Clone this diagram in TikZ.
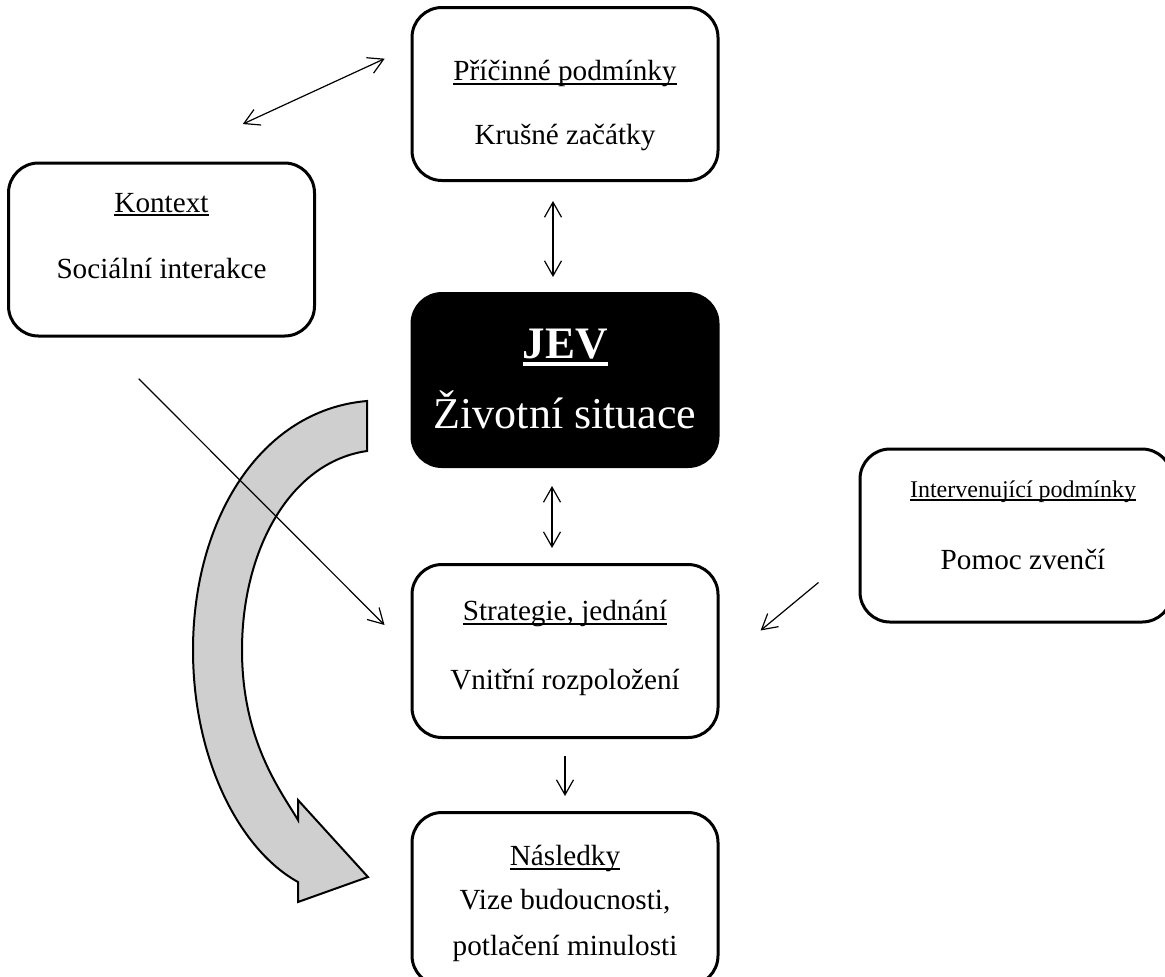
\documentclass[tikz,border=0pt]{standalone}
\usepackage{mathtools}
\usepackage{fontspec}
\setmainfont{Liberation Serif}
\usetikzlibrary{positioning,arrows.meta,calc}

\definecolor{sipka}{RGB}{208,207,208}
% podtrzeni tesne pod uctarii (jako ve Wordu)
\newcommand{\podtrh}[1]{\sbox0{#1}\rlap{\rule[-2pt]{\wd0}{0.8pt}}\usebox0}
\newcommand{\podtrhjev}[1]{\sbox0{#1}\rlap{\rule[-3.8pt]{\wd0}{1.8pt}}\usebox0}
% radky textu v ramecku, uctarie prvniho radku je uctarie uzlu
\newcommand{\obsah}[1]{\begin{tabular}[t]{@{}c@{}}#1\end{tabular}}

\tikzset{
  box/.style={draw, rounded corners=15pt, line width=1.5pt, minimum width=153pt,
    minimum height=86.5pt, text height=0pt, font=\fontsize{14.6}{17.5}\selectfont},
  jevbox/.style={box, fill=black, text=white, font=\fontsize{22}{28}\selectfont},
  spoj/.style={line width=0.6pt, >={Straight Barb[length=7.5pt,width=8.5pt]}},
  velka/.style={fill=sipka, draw=black, line width=1pt, line join=miter}
}

\begin{document}
\begin{tikzpicture}[x=0.5pt, y=-0.5pt]
  \useasboundingbox (0,0) rectangle (1165,976);

  % velka zakrivena sipka
  \filldraw[velka] (367,401) -- (367,451)
    .. controls (290,462) and (242,550) .. (242,650)
    .. controls (242,740) and (280,790) .. (298,820)
    -- (298,800) -- (368,877) -- (298,902) -- (298,882)
    .. controls (240,850) and (193,760) .. (193,650)
    .. controls (193,520) and (260,410) .. (367,401)
    -- cycle;

  \node[jevbox, text depth=22pt] (jev) at (565,380)
    {\obsah{{\fontsize{22.5}{28}\selectfont\bfseries\podtrhjev{JEV}}\\[7pt]Životní situace}};
  \node[box, text depth=13.5pt] (pricinne) [above=55pt of jev]
    {\obsah{\podtrh{Příčinné podmínky}\\[14.5pt]Krušné začátky}};
  \node[box, text depth=30.5pt] (strategie) [below=47.5pt of jev]
    {\obsah{\podtrh{Strategie, jednání}\\[17pt]Vnitřní rozpoložení}};
  \node[box, text depth=33.5pt] (nasledky) [below=36pt of strategie]
    {\obsah{\podtrh{Následky}\\[4.5pt]Vize budoucnosti,\\[5.5pt]potlačení minulosti}};
  \node[box, text depth=37.5pt] (kontext) at (161.5,249.5)
    {\obsah{\podtrh{Kontext}\\[15.5pt]Sociální interakce}};
  \node[box, minimum width=156pt, text depth=38.5pt] (interv) at (1016,535.5)
    {\hspace{7pt}\obsah{{\fontsize{12}{14}\selectfont\podtrh{Intervenující podmínky}}\\[18.5pt]Pomoc zvenčí}};

  % spojnice
  \draw[spoj, <->, shorten <=44.75pt, shorten >=14.2pt] (kontext.north) -- (pricinne.163.7);
  \draw[spoj, <->, shorten <=9.5pt, shorten >=7.5pt] ([xshift=-6pt]pricinne.south) -- ([xshift=-6pt]jev.north);
  \draw[spoj, <->, shorten <=9pt, shorten >=7.5pt] ([xshift=-6.5pt]jev.south) -- ([xshift=-6.5pt]strategie.north);
  \draw[spoj, ->, shorten <=8.5pt, shorten >=7.5pt] (strategie.south) -- (nasledky.north);
  \draw[spoj, ->, shorten <=29.1pt, shorten >=18.4pt] (kontext.234) -- (strategie.west);
  \draw[spoj, ->, shorten <=26pt, shorten >=26.7pt] (interv.185.8) -- (strategie.-5.4);
\end{tikzpicture}
\end{document}
